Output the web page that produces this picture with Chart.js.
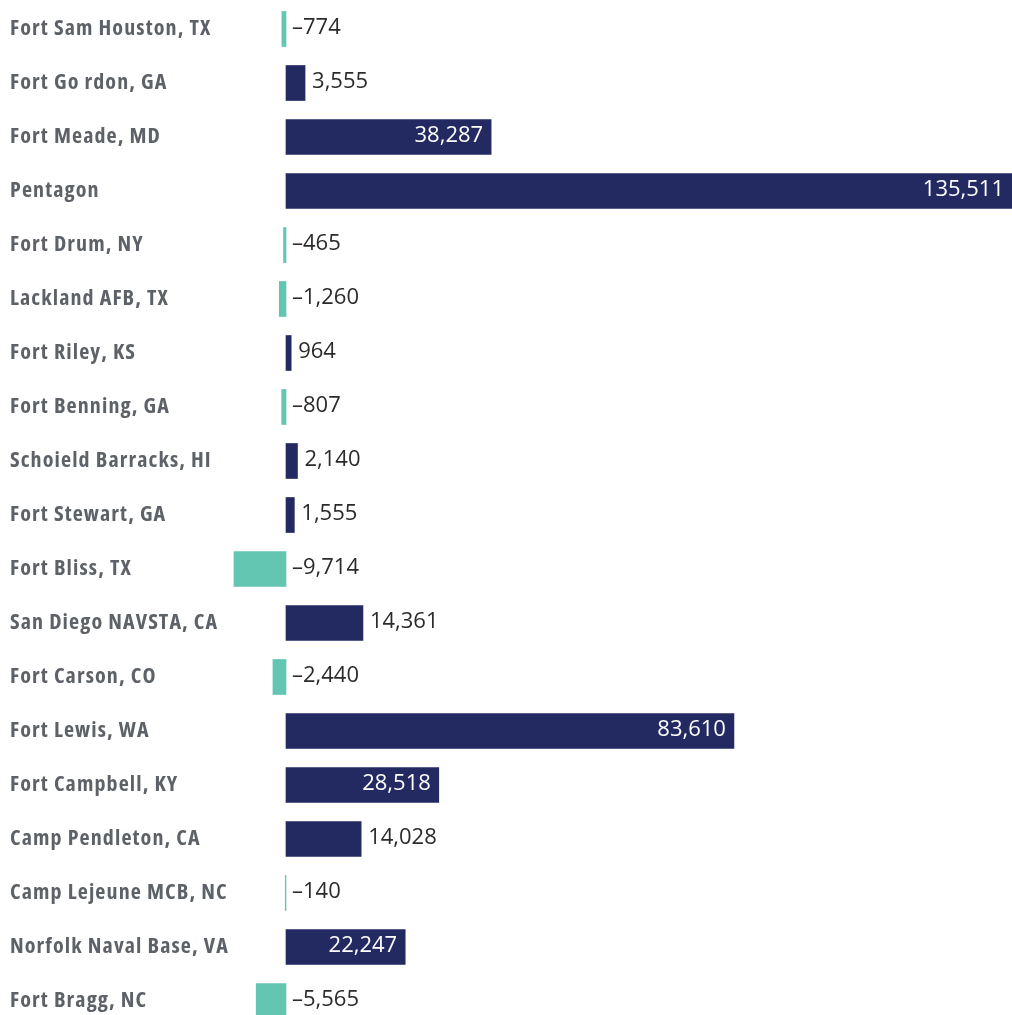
<!DOCTYPE html>
<html>
<head>
<meta charset="utf-8">
<script src="https://cdn.jsdelivr.net/npm/chart.js@4/dist/chart.umd.min.js"></script>
<style>
  html, body { margin: 0; padding: 0; background: #fff; overflow: hidden; }
  #wrap { position: relative; width: 1012px; height: 1030px; }
</style>
</head>
<body>
<div id="wrap"><canvas id="chart"></canvas></div>
<script>
// installations, top to bottom
var bases = [
    "Fort Sam Houston, TX", "Fort Go rdon, GA", "Fort Meade, MD", "Pentagon",
    "Fort Drum, NY", "Lackland AFB, TX", "Fort Riley, KS", "Fort Benning, GA",
    "Schoield Barracks, HI", "Fort Stewart, GA", "Fort Bliss, TX",
    "San Diego NAVSTA, CA", "Fort Carson, CO", "Fort Lewis, WA",
    "Fort Campbell, KY", "Camp Pendleton, CA", "Camp Lejeune MCB, NC",
    "Norfolk Naval Base, VA", "Fort Bragg, NC"
];

var changes = [
    -774, 3555, 38287, 135511,
    -465, -1260, 964, -807,
    2140, 1555, -9714,
    14361, -2440, 83610,
    28518, 14028, -140,
    22247, -5565
];

var NAVY = "#222a61";
var TEAL = "#63c6b3";

function fmt(v)
{
    var s = Math.abs(v).toLocaleString("en-US");
    return v < 0 ? "\u2013" + s : s;
}

// a little extra tracking for the condensed category labels
var labelSpacing = {
    id: "labelSpacing",
    beforeDraw: function(chart) { chart.ctx.letterSpacing = "1.1px"; }
};

var valueLabels = {
    id: "valueLabels",
    afterDatasetsDraw: function(chart)
    {
        var ctx = chart.ctx;
        var meta = chart.getDatasetMeta(0);
        ctx.save();
        ctx.letterSpacing = "0px";
        ctx.font = "22px 'Open Sans'";
        ctx.textBaseline = "middle";
        meta.data.forEach(function(bar, i) {
            var v = changes[i];
            var y = bar.y - 1;
            if (v < 0) {
                ctx.fillStyle = "#2b2b2b";
                ctx.textAlign = "left";
                ctx.fillText(fmt(v), bar.base + 6, y);
            } else if (v > 20000) {
                ctx.fillStyle = "#ffffff";
                ctx.textAlign = "right";
                ctx.fillText(fmt(v), bar.x - 8, y);
            } else {
                ctx.fillStyle = "#2b2b2b";
                ctx.textAlign = "left";
                ctx.fillText(fmt(v), bar.x + 7, y);
            }
        });
        ctx.restore();
    }
};

new Chart(document.getElementById("chart"), {
    type: "bar",
    data: {
        labels: bases,
        datasets: [{
            data: changes,
            backgroundColor: changes.map(function(v) { return v < 0 ? TEAL : NAVY; }),
            borderWidth: 0,
            barThickness: 35
        }]
    },
    options: {
        indexAxis: "y",
        responsive: true,
        maintainAspectRatio: false,
        animation: false,
        layout: { padding: { left: 10, right: 0, top: 2, bottom: 2 } },
        plugins: {
            legend: { display: false },
            tooltip: { enabled: false }
        },
        scales: {
            x: {
                display: false,
                min: -10453,
                max: 135511
            },
            y: {
                grid: { display: false, drawTicks: false },
                border: { display: false },
                afterFit: function(scale) {
                    scale.width = 220;
                    scale.paddingTop = 0;
                    scale.paddingBottom = 0;
                },
                ticks: {
                    crossAlign: "far",
                    color: "#5d6168",
                    font: { family: "'Open Sans', sans-serif", size: 22, weight: "bold condensed" }
                }
            }
        }
    },
    plugins: [labelSpacing, valueLabels]
});
</script>
</body>
</html>
